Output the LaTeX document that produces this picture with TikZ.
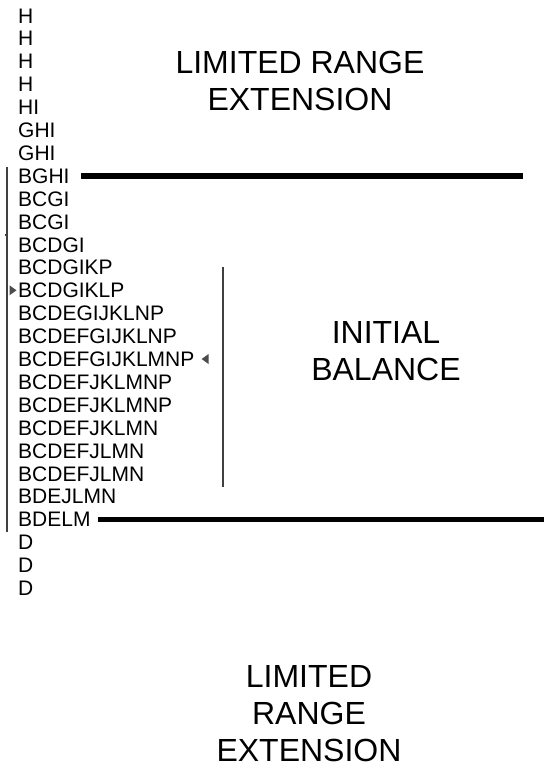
\documentclass[tikz,border=0pt]{standalone}
\usepackage{fontspec}
\setmainfont{Liberation Sans}
\usetikzlibrary{positioning}
\begin{document}
\begin{tikzpicture}[%%
  x=1pt,y=-1pt,%%
  rowStyle/.style={anchor=west,inner sep=0pt,text height=15pt,text depth=0pt,%%
    font=\fontsize{21}{22}\selectfont},%%
  titleStyle/.style={align=center,inner sep=0pt,font=\fontsize{32}{37}\selectfont},%%
  barStyle/.style={-,line width=5.5pt},%%
  ruleStyle/.style={-,line width=2pt,black!75},%%
  midStyle/.style={-,line width=2.6pt,black!75},%%
  tipStyle/.style={fill=black!70}%%
]
%%
\useasboundingbox (0,0) rectangle (544,769);
\pgfmathsetmacro{\rowGap}{22.9}  %% Distance between two rows.
\pgfmathsetmacro{\rowTop}{15.5}  %% Centre of the first row.
%%
%% The column of letter sets.
\foreach \txt [count=\i] in {H,H,H,H,HI,GHI,GHI,BGHI,BCGI,BCGI,BCDGI,BCDGIKP,%%
    BCDGIKLP,BCDEGIJKLNP,BCDEFGIJKLNP,BCDEFGIJKLMNP,BCDEFJKLMNP,BCDEFJKLMNP,%%
    BCDEFJKLMN,BCDEFJLMN,BCDEFJLMN,BDEJLMN,BDELM,D,D,D}
  \node[rowStyle] (row\i) at (18,{\rowTop+(\i-1)*\rowGap}) {\txt};
%%
%% The titles.
\node[titleStyle] (topTitle) at (300,81) {LIMITED RANGE\\EXTENSION};
\node[titleStyle] (initBal) at (386,351) {INITIAL\\BALANCE};
\node[titleStyle] (botTitle) at (309,714) {LIMITED\\RANGE\\EXTENSION};
%%
%% The two thick bars.
\coordinate (topEnd) at (523,175);
\coordinate (botEnd) at (544,518);
\draw[barStyle] ([xshift=11pt]row8.east) -- (row8.east -| topEnd);
\draw[barStyle] ([xshift=7pt]row23.east) -- (row23.east -| botEnd);
%%
%% The rule on the left, with its tick.
\coordinate (ruleTop) at (7,167);
\coordinate (ruleBot) at (7,532);
\coordinate (ruleTick) at (7,235);
\draw[ruleStyle] (ruleTop) -- (ruleBot);
\draw[ruleStyle] (ruleTick) -- ++(-2.5,0);
%%
%% The rule in the middle.
\coordinate (midTop) at (223,267);
\coordinate (midBot) at (223,487);
\draw[midStyle] (midTop) -- (midBot);
%%
%% The two small pointers.
\fill[tipStyle] ([xshift=-1.5pt]row13.west) -- ++(-7,-5) -- ++(0,10) -- cycle;
\fill[tipStyle] ([xshift=7pt]row16.east) -- ++(7,-5) -- ++(0,10) -- cycle;
\end{tikzpicture}
\end{document}
